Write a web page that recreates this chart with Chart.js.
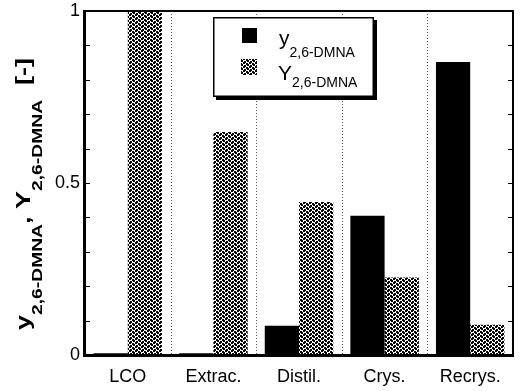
<!DOCTYPE html>
<html><head><meta charset="utf-8">
<script src="https://cdn.jsdelivr.net/npm/chart.js@4"></script>
<style>html,body{margin:0;padding:0;background:#fff}#wrap{width:521px;height:391px}</style>
</head><body><div id="wrap"><canvas id="c" width="521" height="391"></canvas></div>
<script>
// ---- data ----
const categories = ['LCO', 'Extrac.', 'Distil.', 'Crys.', 'Recrys.'];
const purity = [0.005, 0.005, 0.085, 0.405, 0.852];   // y 2,6-DMNA (black)
const yieldY = [1.0, 0.648, 0.445, 0.225, 0.088];     // Y 2,6-DMNA (pattern)
const yTickValues = [0, 0.5, 1];
const yTickLabels = ['0', '0.5', '1'];
const minorStep = 0.1;
const seriesMain = ['y', 'Y'];
const seriesSub = '2,6-DMNA';
const unitText = '[-]';

// ---- pattern ----
function makePattern() {
  const tile = [
    "###...",
    ".##.##",
    "...###",
    "##.##."
  ];
  const c = document.createElement('canvas');
  c.width = tile[0].length; c.height = tile.length;
  const g = c.getContext('2d');
  g.fillStyle = '#fff'; g.fillRect(0, 0, c.width, c.height);
  g.fillStyle = '#000';
  tile.forEach((row, r) => { for (let i = 0; i < row.length; i++) if (row[i] === '#') g.fillRect(i, r, 1, 1); });
  return document.getElementById('c').getContext('2d').createPattern(c, 'repeat');
}
const pat = makePattern();

function richWidth(ctx, parts, mainFont, subFont) {
  let w = 0;
  for (const p of parts) { ctx.font = p.sub ? subFont : mainFont; w += ctx.measureText(p.t).width; }
  return w;
}
function drawRich(ctx, parts, x0, mainFont, subFont, shift) {
  let x = x0;
  for (const p of parts) {
    ctx.font = p.sub ? subFont : mainFont;
    ctx.fillText(p.t, x, p.sub ? shift : 0);
    x += ctx.measureText(p.t).width;
  }
}

const decor = {
  id: 'decor',
  beforeDatasetsDraw(chart) {
    const { ctx, chartArea: a, scales: { x } } = chart;
    ctx.save();
    ctx.strokeStyle = '#555'; ctx.lineWidth = 1; ctx.setLineDash([1, 2]);
    for (let i = 1; i < categories.length; i++) {
      const px = Math.round((x.getPixelForValue(i - 1) + x.getPixelForValue(i)) / 2) + 0.5;
      ctx.beginPath(); ctx.moveTo(px, a.top); ctx.lineTo(px, a.bottom); ctx.stroke();
    }
    ctx.restore();
  },
  afterDraw(chart) {
    const { ctx, chartArea: a, scales: { y } } = chart;
    ctx.save();
    ctx.fillStyle = '#000';
    // frame
    ctx.fillRect(a.left - 2, a.top - 1, 3, a.bottom - a.top + 3);
    ctx.fillRect(a.left - 2, a.bottom - 1, a.right - a.left + 3, 3);
    ctx.fillRect(a.left - 2, a.top - 1, a.right - a.left + 3, 2);
    ctx.fillRect(a.right - 1, a.top - 1, 2, a.bottom - a.top + 3);
    // inward minor ticks
    ctx.strokeStyle = '#000'; ctx.lineWidth = 1;
    for (let v = 0; v <= 1.0001; v += minorStep) {
      const py = Math.round(y.getPixelForValue(v)) + 0.5;
      ctx.beginPath(); ctx.moveTo(a.left, py); ctx.lineTo(a.left + 5, py); ctx.stroke();
      ctx.beginPath(); ctx.moveTo(a.right - 5, py); ctx.lineTo(a.right, py); ctx.stroke();
    }
    // legend box
    const bx = 213, by = 17, bw = 161, bh = 80;
    ctx.fillStyle = '#fff'; ctx.fillRect(bx, by, bw, bh);
    ctx.fillStyle = '#000';
    ctx.fillRect(bx + 3, by + bh, bw, 3);
    ctx.fillRect(bx + bw, by + 3, 3, bh);
    ctx.lineWidth = 1.5; ctx.strokeRect(bx + 0.75, by + 0.75, bw - 1.5, bh - 1.5);
    ctx.fillStyle = '#000'; ctx.fillRect(242, 28, 15, 15);
    ctx.fillStyle = pat; ctx.fillRect(241, 59, 16, 16);
    ctx.fillStyle = '#000'; ctx.textBaseline = 'alphabetic'; ctx.textAlign = 'left';
    const lf = '21px "Liberation Sans", Arial, sans-serif', ls = '14px "Liberation Sans", Arial, sans-serif';
    ctx.save(); ctx.translate(0, 45);
    drawRich(ctx, [{ t: seriesMain[0] }, { t: seriesSub, sub: 1 }], 279, lf, ls, 12);
    ctx.restore();
    ctx.save(); ctx.translate(0, 80);
    drawRich(ctx, [{ t: seriesMain[1] }, { t: seriesSub, sub: 1 }], 278, lf, ls, 7);
    ctx.restore();
    // y-axis title
    const tf = 'bold 21px "Liberation Sans", Arial, sans-serif', tsf = 'bold 15px "Liberation Sans", Arial, sans-serif';
    const parts = [{ t: seriesMain[0] }, { t: seriesSub, sub: 1 }, { t: ', ' }, { t: seriesMain[1] }, { t: seriesSub, sub: 1 }, { t: '  ' + unitText }];
    const w = richWidth(ctx, parts, tf, tsf);
    const span = 272;
    ctx.translate(30, 194); ctx.rotate(-Math.PI / 2); ctx.scale(span / w, 1);
    drawRich(ctx, parts, -w / 2, tf, tsf, 12);
    ctx.restore();
  }
};

new Chart(document.getElementById('c'), {
  type: 'bar',
  data: {
    labels: categories,
    datasets: [
      { label: 'y', data: purity, backgroundColor: '#000', categoryPercentage: 0.8, barPercentage: 1.0 },
      { label: 'Y', data: yieldY, backgroundColor: pat, categoryPercentage: 0.8, barPercentage: 1.0 }
    ]
  },
  options: {
    responsive: false, animation: false, devicePixelRatio: 1,
    layout: { padding: { top: 11, right: 8, left: 0, bottom: 0 } },
    plugins: { legend: { display: false }, tooltip: { enabled: false } },
    scales: {
      x: {
        grid: { display: false, drawTicks: false }, border: { display: false },
        ticks: { color: '#000', padding: 11, font: { family: '"Liberation Sans", Arial, sans-serif', size: 18 } },
        afterFit(s) { s.height = 36; s.paddingLeft = 0; s.paddingRight = 0; }
      },
      y: {
        min: 0, max: 1,
        grid: { display: false, drawTicks: false }, border: { display: false },
        afterBuildTicks(s) { s.ticks = yTickValues.map(v => ({ value: v })); },
        ticks: {
          color: '#000', padding: 5, font: { family: '"Liberation Sans", Arial, sans-serif', size: 18 },
          callback: (v) => { const i = yTickValues.indexOf(v); return i >= 0 ? yTickLabels[i] : ''; }
        },
        afterFit(s) { s.width = 85; s.paddingTop = 0; s.paddingBottom = 0; }
      }
    }
  },
  plugins: [decor]
});
</script></body></html>
